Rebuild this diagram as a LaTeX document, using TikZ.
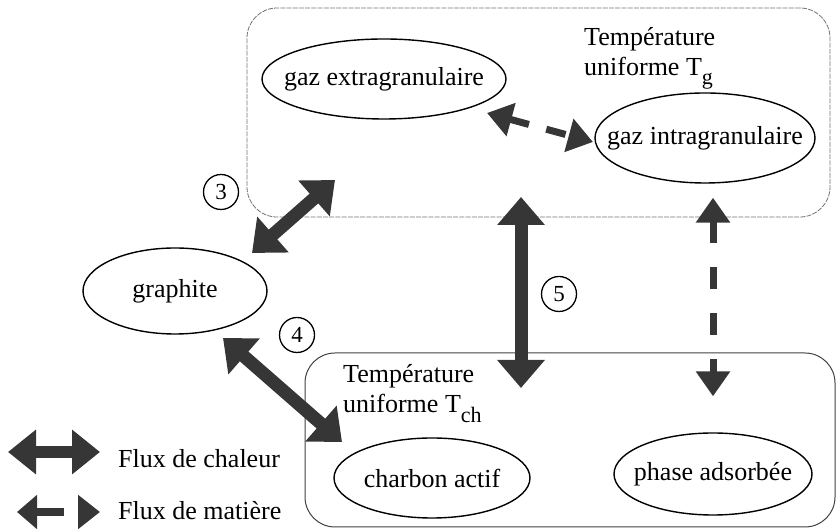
\documentclass[tikz,border=0pt]{standalone}
\usepackage{fontspec}
\setmainfont{Liberation Serif}
\usetikzlibrary{arrows.meta,shapes.geometric}
\definecolor{arr}{HTML}{363636}
\tikzset{
  txt/.style={font=\fontsize{26}{30}\selectfont},
  ell/.style={ellipse, draw=black, line width=1.4pt, inner xsep=-60pt, inner ysep=-20pt, txt},
  gbox/.style={rectangle, rounded corners=30pt, draw=black!55, line width=0.8pt,
     dash pattern=on 5pt off 1.2pt, inner sep=0pt},
  cbox/.style={rectangle, rounded corners=30pt, draw=black!75, line width=1pt, inner sep=0pt},
  num/.style={circle, draw=black, line width=1.3pt, minimum size=35pt, inner sep=0pt,
     font=\fontsize{23}{23}\selectfont},
  heat/.style={draw=arr, line width=13pt,
     {Triangle[length=28pt,width=46pt]}-{Triangle[length=28pt,width=46pt]}},
  mass/.style={draw=arr, line width=7pt,
     {Triangle[length=25pt,width=33pt]}-{Triangle[length=25pt,width=33pt]}},
}
\begin{document}
\begin{tikzpicture}[x=1pt,y=1pt]
\useasboundingbox (0,0) rectangle (837,529);
% boxes
\node[gbox, minimum width=583pt, minimum height=209pt] (gb) at (538.5,416.5) {};
\node[cbox, minimum width=530pt, minimum height=174pt] (cb) at (570,89) {};
% box labels
\node[txt, anchor=north west, align=left, inner sep=0pt] (tg) at (584,502)
  {Température\\uniforme T\raisebox{-9pt}{\fontsize{22}{22}\selectfont g}};
\node[txt, anchor=north west, align=left, inner sep=0pt] (tch) at (343,165)
  {Température\\uniforme T\raisebox{-10pt}{\fontsize{22}{22}\selectfont ch}};
% ellipses
\node[ell, minimum width=244pt, minimum height=80pt] (ge) at (384,450) {gaz extragranulaire};
\node[ell, minimum width=220pt, minimum height=90pt] (gi) at (705,391) {gaz intragranulaire};
\node[ell, minimum width=184pt, minimum height=86pt] (gr) at (175,238) {graphite};
\node[ell, minimum width=196pt, minimum height=80pt] (ca) at (432,51) {charbon actif};
\node[ell, minimum width=198pt, minimum height=82pt] (pa) at (713,55) {phase adsorbée};
% numbers
\node[num] (n3) at (221,337) {3};
\node[num] (n4) at (297,194) {4};
\node[num] (n5) at (559,235) {5};
% arrow end points
\coordinate (a3a) at (252,276);
\coordinate (a3b) at (335,349);
\coordinate (a4a) at (223,191);
\coordinate (a4b) at (342,87);
\coordinate (a5a) at (521,332);
\coordinate (a5b) at (521,141);
\coordinate (m1a) at (487,416);
\coordinate (m1b) at (593,387);
% heat arrows
\draw[heat] (a3a) -- (a3b);
\draw[heat] (a4a) -- (a4b);
\draw[heat] (a5a) -- (a5b);
% mass arrows
\draw[mass, dash pattern=on 20pt off 18pt] (m1a) -- (m1b);
\draw[mass, dash pattern=on 22pt off 24pt, shorten <=14pt, shorten >=36pt]
  (pa.north |- gi.south) -- (pa.north);
% legend
\coordinate (lha) at (8,77);
\coordinate (lhb) at (100,77);
\coordinate (lma) at (17,17);
\coordinate (lmb) at (100,17);
\draw[draw=arr, line width=12pt,
  {Triangle[length=28pt,width=43pt]}-{Triangle[length=28pt,width=43pt]}] (lha) -- (lhb);
\draw[draw=arr, line width=8pt, dash pattern=on 28pt off 20pt,
  {Triangle[length=20pt,width=33pt]}-{Triangle[length=22pt,width=33pt]}] (lma) -- (lmb);
\node[txt, anchor=base west, inner sep=0pt] (lt1) at (118,61) {Flux de chaleur};
\node[txt, anchor=base west, inner sep=0pt] (lt2) at (118,9) {Flux de matière};
\end{tikzpicture}
\end{document}
